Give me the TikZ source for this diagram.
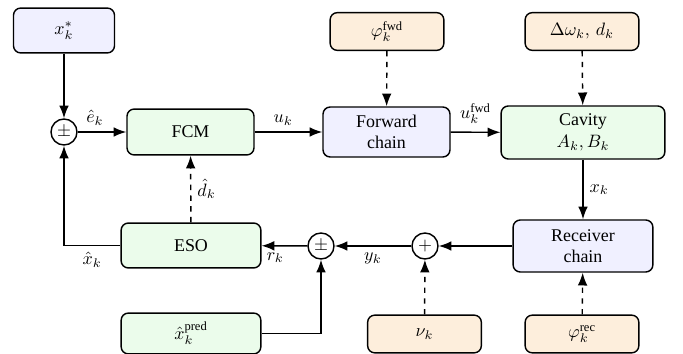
\documentclass[tikz,border=0pt]{standalone}
\usepackage{fontspec}
\setmainfont{Liberation Serif}
\usetikzlibrary{arrows.meta}

\definecolor{chainblue}{HTML}{F0F0FF}
\definecolor{plantgreen}{HTML}{EBFCEB}
\definecolor{noiseorange}{HTML}{FDEEDC}

\begin{document}
\begin{tikzpicture}[
      x=0.0196cm, y=-0.0196cm,
      font=\normalsize,
      block/.style={rectangle, draw, thick, rounded corners=4pt, align=center, inner sep=2pt},
      chain/.style={block, fill=chainblue},
      plant/.style={block, fill=plantgreen},
      source/.style={block, fill=noiseorange, minimum width=2.23cm, minimum height=0.74cm},
      sumnode/.style={circle, draw, thick, inner sep=0pt, minimum size=0.51cm},
      pointer/.style={thick, -{Latex[length=2.5mm,width=1.9mm]}, draw},
      dpointer/.style={pointer, dashed},
      every label/.style={font=\normalsize}
      ]
      \useasboundingbox (0,0) rectangle (683,354);

      %top row
      \node[chain, minimum width=1.98cm, minimum height=0.88cm] (reference) at (64,30.5) {$x_k^{*}$};
      \node[source] (phasefwd) at (387,31.5) {$\varphi_k^{\mathrm{fwd}}$};
      \node[source] (detuning) at (582,31.5) {$\Delta\omega_k,\, d_k$};

      %forward path
      \node[sumnode] (errorsum) at (64,132) {$\pm$};
      \node[plant, minimum width=2.49cm, minimum height=0.9cm] (fcm) at (190.5,132) {FCM};
      \node[chain, minimum width=2.49cm, minimum height=0.98cm] (forward) at (386.5,132) {Forward\\chain};
      \node[plant, minimum width=3.21cm, minimum height=1.04cm] (cavity) at (583,132.5) {Cavity\\$A_k, B_k$};

      %feedback path
      \node[plant, minimum width=2.74cm, minimum height=0.88cm] (eso) at (191,245.5) {ESO};
      \node[sumnode] (residualsum) at (321,246) {$\pm$};
      \node[sumnode] (noisesum) at (425,246) {$+$};
      \node[chain, minimum width=2.74cm, minimum height=1.02cm] (receiver) at (583,246) {Receiver\\chain};

      %bottom row
      \node[plant, minimum width=2.74cm, minimum height=0.8cm] (prediction) at (191,333.5) {$\hat{x}_k^{\mathrm{pred}}$};
      \node[source] (noise) at (424.5,334) {$\nu_k$};
      \node[source] (phaserec) at (582,334) {$\varphi_k^{\mathrm{rec}}$};

      %forward edges
      \path[pointer] (reference) -- (errorsum);
      \path[pointer] (errorsum) -- node[above, xshift=-4pt] {$\hat{e}_k$} (fcm);
      \path[pointer] (fcm) -- node[above, xshift=-3pt] {$u_k$} (forward);
      \path[pointer] (forward) -- node[above, yshift=1pt] {$u_k^{\mathrm{fwd}}$} (cavity);
      \path[pointer] (cavity) -- node[right] {$x_k$} (receiver);

      %feedback edges
      \path[pointer] (receiver) -- (noisesum);
      \path[pointer] (noisesum) -- node[below] {$y_k$} (residualsum);
      \path[pointer] (residualsum) -- node[below, pos=0.7] {$r_k$} (eso);
      \path[pointer] (eso.west) -- node[below, pos=0.5] {$\hat{x}_k$} (errorsum.south |- eso.west) -- (errorsum.south);
      \path[pointer] (prediction.east) -| (residualsum.south);

      %dashed edges
      \path[dpointer] (phasefwd) -- (forward);
      \path[dpointer] (detuning) -- (cavity);
      \path[dpointer] (eso) -- node[right] {$\hat{d}_k$} (fcm);
      \path[dpointer] (noise) -- (noisesum);
      \path[dpointer] (phaserec) -- (receiver);
\end{tikzpicture}
\end{document}
